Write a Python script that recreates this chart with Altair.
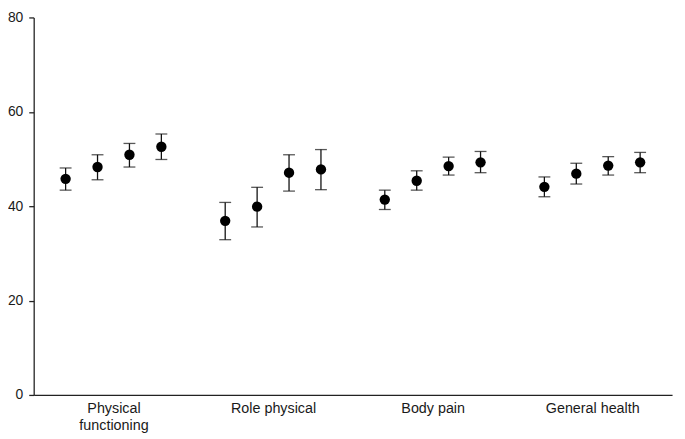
import altair as alt
import pandas as pd

categories = ["Physical functioning", "Role physical", "Body pain", "General health"]
# four successive estimates per category (mean, lower, upper)
means = [
    [45.8, 48.3, 50.9, 52.6],
    [36.9, 39.9, 47.1, 47.8],
    [41.4, 45.4, 48.5, 49.3],
    [44.1, 46.9, 48.6, 49.3],
]
lowers = [
    [43.4, 45.6, 48.3, 49.9],
    [32.9, 35.6, 43.2, 43.5],
    [39.3, 43.4, 46.6, 47.1],
    [42.0, 44.7, 46.6, 47.1],
]
uppers = [
    [48.1, 50.9, 53.3, 55.3],
    [40.8, 44.0, 50.9, 52.0],
    [43.4, 47.5, 50.4, 51.6],
    [46.2, 49.1, 50.5, 51.4],
]
y_ticks = [0, 20, 40, 60, 80]

rows = []
for g, cat in enumerate(categories):
    for i in range(4):
        rows.append({
            "category": cat,
            "slot": g * 5 + i,
            "mean": means[g][i],
            "lo": lowers[g][i],
            "hi": uppers[g][i],
        })
df = pd.DataFrame(rows)

centers = [g * 5 + 1.5 for g in range(len(categories))]
label_expr = (
    "datum.value == 1.5 ? ['Physical', 'functioning'] : "
    "datum.value == 6.5 ? 'Role physical' : "
    "datum.value == 11.5 ? 'Body pain' : 'General health'"
)

x = alt.X(
    "slot:Q",
    scale=alt.Scale(domain=[-1, 19], nice=False, zero=False),
    axis=alt.Axis(
        title=None, values=centers, labelExpr=label_expr, ticks=False, grid=False,
        labelFontSize=14.5, labelPadding=7, labelLineHeight=17, labelColor="#1a1a1a",
        domainColor="#222222", domainWidth=1.3, labelFlush=False, labelOverlap=False,
        labelFont="Liberation Sans",
    ),
)
y = alt.Y(
    "mean:Q",
    scale=alt.Scale(domain=[0, 80], nice=False),
    axis=alt.Axis(
        title=None, values=y_ticks, grid=False, tickSize=5, tickColor="#222222",
        tickWidth=1.3, domainColor="#222222", domainWidth=1.3,
        labelFontSize=14, labelPadding=6, labelColor="#1a1a1a",
        labelFont="Liberation Sans",
    ),
)

base = alt.Chart(df)
rules = base.mark_rule(color="#111111", strokeWidth=1.3).encode(
    x=x, y=alt.Y("lo:Q", scale=alt.Scale(domain=[0, 80])), y2="hi:Q"
)
caps_lo = base.mark_tick(color="#111111", thickness=1.3, size=12, orient="horizontal").encode(
    x="slot:Q", y="lo:Q"
)
caps_hi = base.mark_tick(color="#111111", thickness=1.3, size=12, orient="horizontal").encode(
    x="slot:Q", y="hi:Q"
)
points = base.mark_point(filled=True, color="#000000", size=110, opacity=1, shape="circle").encode(
    x=x, y=y
)

chart = alt.layer(rules, caps_lo, caps_hi, points).properties(
    width=646, height=382,
    autosize=alt.AutoSizeParams(type="none"),
    padding={"left": 26, "top": 7, "right": 5, "bottom": 40},
).configure(font="Liberation Sans").configure_view(stroke=None)

chart.save("out.html", embed_options={"renderer": "svg", "actions": False})
